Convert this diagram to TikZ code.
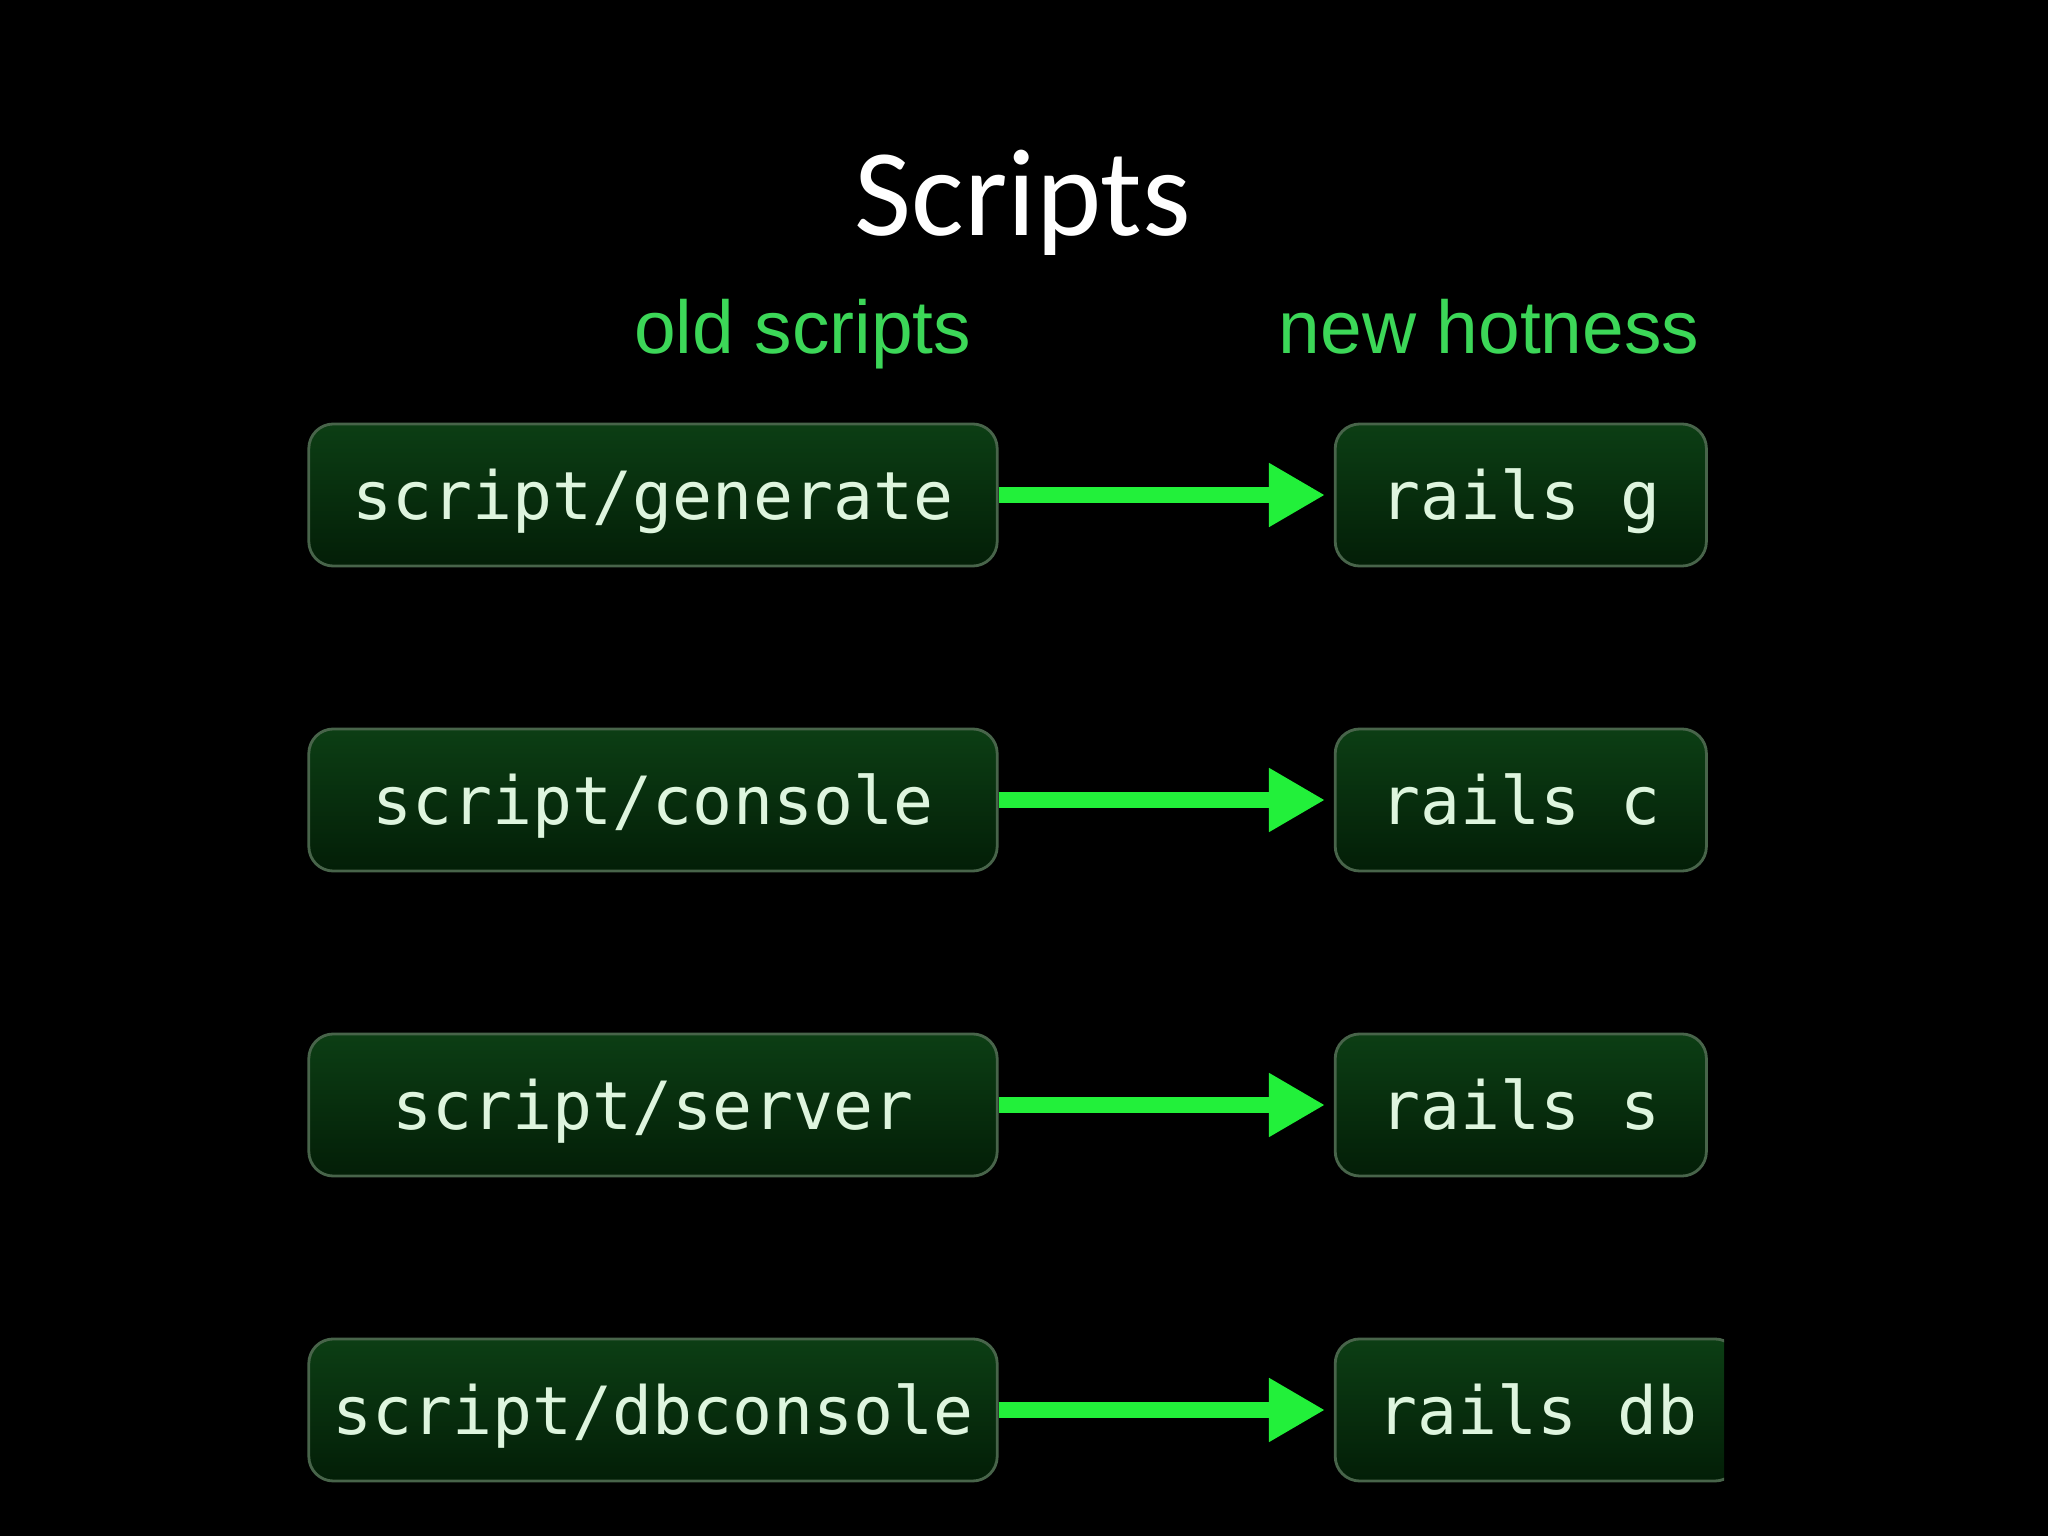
\documentclass[tikz,border=0pt]{standalone}
\usepackage{fontspec}
\setmonofont{DejaVu Sans Mono}
\newfontfamily\titlefont{Carlito}
\newfontfamily\labelfont{Liberation Sans}
\usetikzlibrary{positioning,arrows.meta}

\definecolor{boxtop}{RGB}{12,62,20}
\definecolor{boxbot}{RGB}{3,30,7}
\definecolor{boxline}{RGB}{72,100,74}
\definecolor{boxtext}{RGB}{222,245,222}
\definecolor{arrowgreen}{RGB}{34,240,58}
\definecolor{labelgreen}{RGB}{60,215,88}

\begin{document}
\begin{tikzpicture}[
  x=0.01cm, y=-0.01cm,
  node distance=1.6cm and 3.35cm,
  box/.style={draw=boxline, line width=0.8pt, rounded corners=7pt,
    top color=boxtop, bottom color=boxbot, text=boxtext,
    font=\fontsize{18.9}{22}\selectfont\ttfamily,
    minimum height=1.42cm, inner ysep=0pt, text height=14pt, text depth=0pt},
  oldbox/.style={box, minimum width=6.88cm, inner xsep=0.24cm},
  newbox/.style={box, minimum width=3.71cm, inner xsep=0.42cm},
  hdr/.style={text=labelgreen, font=\fontsize{21.3}{25}\selectfont\labelfont, inner sep=0pt},
  arrow/.style={-{Triangle[length=5.6mm, width=6mm]}, arrowgreen, line width=4.5pt, shorten >=2.5pt}
]

% Background
\fill[black] (0,0) rectangle (2048,1536);
\useasboundingbox (0,0) rectangle (2048,1536);

% Title and column headings
\node[text=white, font=\fontsize{35.3}{40}\selectfont\titlefont, inner sep=0pt, anchor=base] (title) at (1023,235) {Scripts};
\node[hdr, anchor=base east] (oldhdr) at (972,353) {old scripts};
\node[hdr, anchor=base east] (newhdr) at (1700,353) {new hotness};

% Old scripts (left column)
\node[oldbox] (oldgen) at (653,495) {script/generate};
\node[oldbox, below=of oldgen] (oldcon) {script/console};
\node[oldbox, below=of oldcon] (oldsrv) {script/server};
\node[oldbox, below=of oldsrv] (olddb) {script/dbconsole};

% New commands (right column)
\node[newbox, right=of oldgen] (newgen) {rails g};
\node[newbox, right=of oldcon] (newcon) {rails c};
\node[newbox, right=of oldsrv] (newsrv) {rails s};
\begin{scope}
  \clip (0,0) rectangle (1724,1536);
  \node[newbox, right=of olddb] (newdb) {rails db};
\end{scope}

% Arrows old -> new
\draw[arrow] (oldgen) -- (newgen);
\draw[arrow] (oldcon) -- (newcon);
\draw[arrow] (oldsrv) -- (newsrv);
\draw[arrow] (olddb) -- (newdb);

\end{tikzpicture}
\end{document}
